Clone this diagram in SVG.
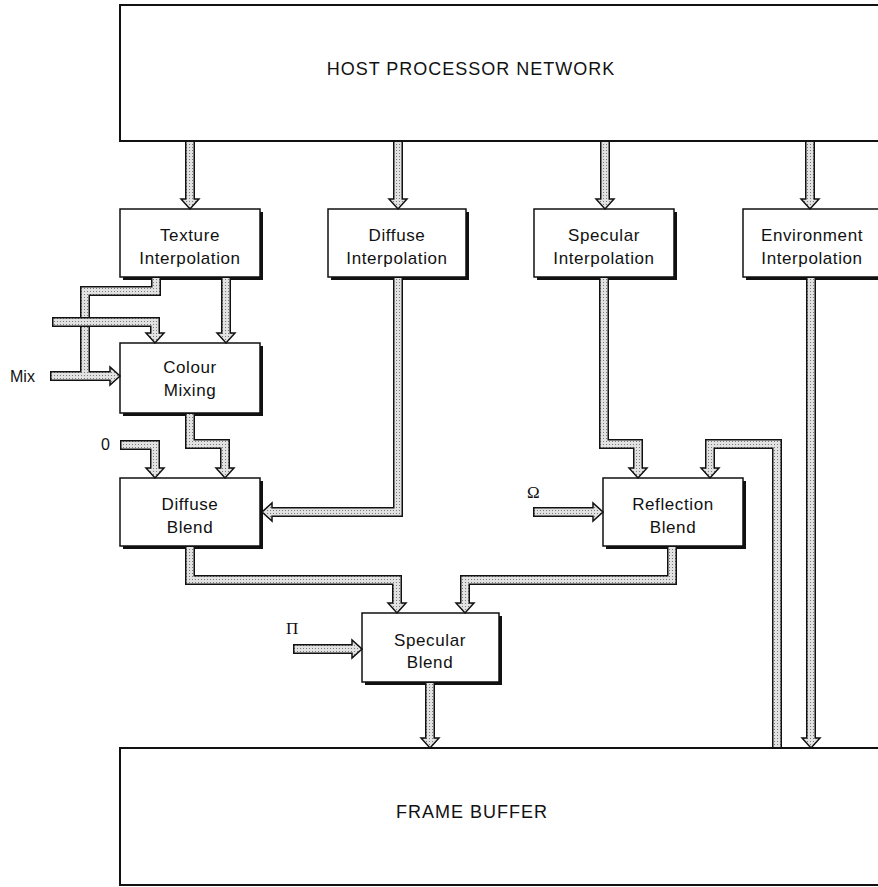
<svg xmlns="http://www.w3.org/2000/svg" width="878" height="887" viewBox="0 0 878 887">
<defs>
<pattern id="stip" width="3" height="3" patternUnits="userSpaceOnUse">
<rect width="3" height="3" fill="#e2e2e2"/>
<rect width="1" height="1" fill="#7a7a7a"/>
</pattern>
<style>
.big{fill:#fff;stroke:#111;stroke-width:2}
.box{fill:#fff;stroke:#111;stroke-width:1.5}
.sh{fill:#111}
.t{font-family:"Liberation Sans",Arial,sans-serif;font-size:17px;letter-spacing:0.6px;fill:#111;text-anchor:middle}
.tb{font-family:"Liberation Sans",Arial,sans-serif;font-size:18px;letter-spacing:1px;fill:#111;text-anchor:middle}
.lbl{font-family:"Liberation Sans",Arial,sans-serif;font-size:16px;fill:#111}
.gr{font-family:"Liberation Serif","Times New Roman",serif;font-size:17px;fill:#111}
.po{fill:none;stroke:#111;stroke-width:10;stroke-linejoin:miter}
.pi{fill:none;stroke:url(#stip);stroke-width:7;stroke-linejoin:miter}
.ah{fill:url(#stip);stroke:#111;stroke-width:1.5;stroke-linejoin:miter}
</style>
</defs>
<rect width="878" height="887" fill="#fff"/>

<g id="host">
<rect class="big" x="120" y="5" width="780" height="136"/>
<text class="tb" x="471" y="75">HOST PROCESSOR NETWORK</text>
</g>
<g id="framebuffer">
<rect class="big" x="120" y="748" width="780" height="137"/>
<text class="tb" x="472" y="818">FRAME BUFFER</text>
</g>

<g id="texture">
<rect class="sh" x="123" y="212" width="140" height="68"/>
<rect class="box" x="120" y="209" width="140" height="68"/>
<text class="t" x="190" y="241">Texture</text>
<text class="t" x="190" y="264">Interpolation</text>
</g>
<g id="diffuseinterp">
<rect class="sh" x="331" y="212" width="138" height="68"/>
<rect class="box" x="328" y="209" width="138" height="68"/>
<text class="t" x="397" y="241">Diffuse</text>
<text class="t" x="397" y="264">Interpolation</text>
</g>
<g id="specularinterp">
<rect class="sh" x="537" y="212" width="140" height="68"/>
<rect class="box" x="534" y="209" width="140" height="68"/>
<text class="t" x="604" y="241">Specular</text>
<text class="t" x="604" y="264">Interpolation</text>
</g>
<g id="envinterp">
<rect class="sh" x="746" y="212" width="140" height="68"/>
<rect class="box" x="743" y="209" width="140" height="68"/>
<text class="t" x="812" y="241">Environment</text>
<text class="t" x="812" y="264">Interpolation</text>
</g>
<g id="colourmixing">
<rect class="sh" x="123" y="346" width="140" height="70"/>
<rect class="box" x="120" y="343" width="140" height="70"/>
<text class="t" x="190" y="373">Colour</text>
<text class="t" x="190" y="396">Mixing</text>
</g>
<g id="diffuseblend">
<rect class="sh" x="123" y="481" width="140" height="68"/>
<rect class="box" x="120" y="478" width="140" height="68"/>
<text class="t" x="190" y="510">Diffuse</text>
<text class="t" x="190" y="533">Blend</text>
</g>
<g id="reflectionblend">
<rect class="sh" x="606" y="481" width="140" height="68"/>
<rect class="box" x="603" y="478" width="140" height="68"/>
<text class="t" x="673" y="510">Reflection</text>
<text class="t" x="673" y="533">Blend</text>
</g>
<g id="specularblend">
<rect class="sh" x="365" y="616" width="137" height="69"/>
<rect class="box" x="362" y="613" width="137" height="69"/>
<text class="t" x="430" y="646">Specular</text>
<text class="t" x="430" y="668">Blend</text>
</g>

<g id="labels">
<text class="lbl" x="10" y="382">Mix</text>
<text class="lbl" x="101" y="450">0</text>
<text class="gr" x="527" y="498">Ω</text>
<text class="gr" x="286" y="634">Π</text>
</g>

<g id="connectors">
<!-- host to texture -->
<g>
<path class="po" d="M190 142 V200"/>
<polygon class="ah" points="181,199 199,199 190,209"/>
<path class="pi" d="M190 142 V201"/>
</g>
<g>
<path class="po" d="M398 142 V200"/>
<polygon class="ah" points="389,199 407,199 398,209"/>
<path class="pi" d="M398 142 V201"/>
</g>
<g>
<path class="po" d="M605 142 V200"/>
<polygon class="ah" points="596,199 614,199 605,209"/>
<path class="pi" d="M605 142 V201"/>
</g>
<g>
<path class="po" d="M810 142 V200"/>
<polygon class="ah" points="801,199 819,199 810,209"/>
<path class="pi" d="M810 142 V201"/>
</g>
<!-- texture left loop + Mix -->
<g>
<path class="po" d="M156 278 V291 H85 V376 H111 M50 376 H111"/>
<polygon class="ah" points="110,367 110,385 120,376"/>
<path class="pi" d="M156 278 V291 H85 V376 H112 M51.5 376 H112"/>
</g>
<!-- top external input to colour mixing -->
<g>
<path class="po" d="M52 322 H155 V334"/>
<polygon class="ah" points="146,333 164,333 155,343"/>
<path class="pi" d="M53.5 322 H155 V335"/>
</g>
<!-- texture right to colour mixing -->
<g>
<path class="po" d="M226 278 V334"/>
<polygon class="ah" points="217,333 235,333 226,343"/>
<path class="pi" d="M226 278 V335"/>
</g>
<!-- colour mixing to diffuse blend -->
<g>
<path class="po" d="M190 414 V444 H225 V469"/>
<polygon class="ah" points="216,468 234,468 225,478"/>
<path class="pi" d="M190 414 V444 H225 V470"/>
</g>
<!-- 0 input -->
<g>
<path class="po" d="M120 445 H155 V469"/>
<polygon class="ah" points="146,468 164,468 155,478"/>
<path class="pi" d="M121.5 445 H155 V470"/>
</g>
<!-- diffuse interp to diffuse blend -->
<g>
<path class="po" d="M398 278 V512 H271"/>
<polygon class="ah" points="272,503 272,521 262,512"/>
<path class="pi" d="M398 278 V512 H270"/>
</g>
<!-- diffuse blend to specular blend -->
<g>
<path class="po" d="M190 547 V580 H397 V604"/>
<polygon class="ah" points="388,603 406,603 397,613"/>
<path class="pi" d="M190 547 V580 H397 V605"/>
</g>
<!-- reflection blend to specular blend -->
<g>
<path class="po" d="M672 547 V580 H465 V604"/>
<polygon class="ah" points="456,603 474,603 465,613"/>
<path class="pi" d="M672 547 V580 H465 V605"/>
</g>
<!-- Pi input -->
<g>
<path class="po" d="M293 649 H353"/>
<polygon class="ah" points="352,640 352,658 362,649"/>
<path class="pi" d="M294.5 649 H354"/>
</g>
<!-- specular blend to frame buffer -->
<g>
<path class="po" d="M430 683 V739"/>
<polygon class="ah" points="421,738 439,738 430,748"/>
<path class="pi" d="M430 683 V740"/>
</g>
<!-- specular interp to reflection blend -->
<g>
<path class="po" d="M604 278 V444 H638 V469"/>
<polygon class="ah" points="629,468 647,468 638,478"/>
<path class="pi" d="M604 278 V444 H638 V470"/>
</g>
<!-- frame buffer feedback to reflection blend -->
<g>
<path class="po" d="M777 747 V444 H710 V469"/>
<polygon class="ah" points="701,468 719,468 710,478"/>
<path class="pi" d="M777 747 V444 H710 V470"/>
</g>
<!-- Omega input -->
<g>
<path class="po" d="M533 512 H594"/>
<polygon class="ah" points="593,503 593,521 603,512"/>
<path class="pi" d="M534.5 512 H595"/>
</g>
<!-- environment to frame buffer -->
<g>
<path class="po" d="M811 278 V739"/>
<polygon class="ah" points="802,738 820,738 811,748"/>
<path class="pi" d="M811 278 V740"/>
</g>
</g>
</svg>
